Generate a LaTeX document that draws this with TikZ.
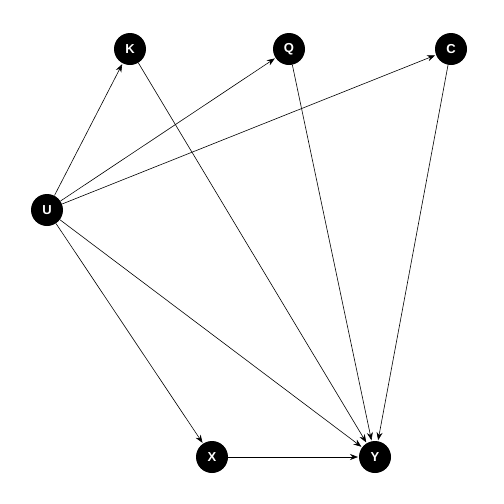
\documentclass[tikz,border=0pt]{standalone}
\usepackage{fontspec}
\setsansfont{Liberation Sans}
\usetikzlibrary{arrows.meta}

\begin{document}
\begin{tikzpicture}[x=0.5pt, y=-0.5pt, >={Stealth[length=4pt,width=3pt]},
    var/.style={circle, fill=black, inner sep=0pt, minimum size=16pt,
        text=white, font=\sffamily\bfseries\fontsize{6.5}{7}\selectfont},
    edge/.style={->, line width=0.3pt, shorten >=0.3pt}]
    \useasboundingbox (0,0) rectangle (504,504);

    \node[var] (K) at (130,49) {K};
    \node[var] (Q) at (289,49) {Q};
    \node[var] (C) at (451,49) {C};
    \node[var] (U) at (47,210) {U};
    \node[var] (X) at (212,457) {X};
    \node[var] (Y) at (375,457) {Y};

    \draw[edge] (U) -- (K);
    \draw[edge] (U) -- (Q);
    \draw[edge] (U) -- (C);
    \draw[edge] (U) -- (X);
    \draw[edge] (U) -- (Y);
    \draw[edge] (K) -- (Y);
    \draw[edge] (Q) -- (Y);
    \draw[edge] (C) -- (Y);
    \draw[edge] (X) -- (Y);
\end{tikzpicture}
\end{document}
